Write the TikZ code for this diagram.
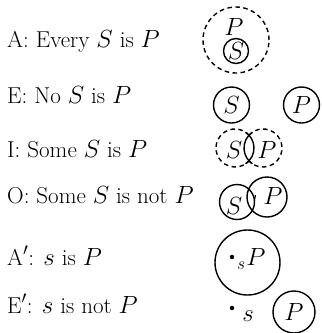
\documentclass[tikz,border=0pt]{standalone}
\begin{document}
\begin{tikzpicture}[x=1pt,y=-1pt,
  lbl/.style={anchor=base west,inner sep=0pt,font=\fontsize{23}{27}\selectfont},
  let/.style={inner sep=0pt,font=\fontsize{23}{27}\selectfont},
  ring/.style={circle,draw,line width=1.4pt,inner sep=0pt,font=\fontsize{23}{27}\selectfont},
  dsh/.style={line width=1.4pt,dash pattern=on 4.5pt off 3.5pt},
  sol/.style={line width=1.4pt},
  pt/.style={circle,fill,inner sep=0pt,minimum size=4.5pt}]
\useasboundingbox (0,0) rectangle (322,333);
% labels
\node[lbl] (tA) at (7,47) {A: Every $S$ is $P$};
\node[lbl] (tE) at (7,103) {E: No $S$ is $P$};
\node[lbl] (tI) at (7,157) {I: Some $S$ is $P$};
\node[lbl] (tO) at (7,203) {O: Some $S$ is not $P$};
\node[lbl] (tA2) at (7,265) {A$'$: $s$ is $P$};
\node[lbl] (tE2) at (7,313) {E$'$: $s$ is not $P$};
% A
\node[circle,draw,dsh,minimum size=66pt,inner sep=0pt] (Aout) at (236,40) {};
\node[let] (AP) at (234,27) {$P$};
\node[ring,minimum size=25pt] (AS) at (236,51) {$S$};
% E
\node[ring,minimum size=36pt] (ES) at (231.5,105) {$S$};
\node[ring,minimum size=36pt] (EP) at (301.5,105) {$P$};
% I
\coordinate (IL) at (235,148);
\coordinate (IR) at (263,148);
\draw[dsh] (IL) ++(42:19pt) arc[start angle=42,end angle=318,radius=19pt];
\draw[dsh] (IR) ++(138:19pt) arc[start angle=138,end angle=-138,radius=19pt];
\draw[sol] (IL) ++(-56:19pt) arc[start angle=-56,end angle=56,radius=19pt];
\draw[sol] (IR) ++(124:19pt) arc[start angle=124,end angle=236,radius=19pt];
\node[let] (IS) at (234,150) {$S$};
\node[let] (IP) at (267,150) {$P$};
% O
\node[ring,minimum size=35pt] (OS) at (237,202) {};
\node[ring,minimum size=40pt] (OP) at (267,197) {};
\node[let] (OSl) at (234,206) {$S$};
\node[let] (OPl) at (273,196) {$P$};
\coordinate (Ot1) at (255.5,195);
\coordinate (Ot2) at (254.5,200);
\draw[line width=1.1pt] (Ot1) -- (Ot2);
% A'
\node[ring,minimum size=65pt] (A2c) at (247.5,262.5) {};
\node[pt] (A2d) at (232,257) {};
\node[inner sep=0pt,font=\fontsize{18}{21}\selectfont] (A2s) at (241,266) {$s$};
\node[let] (A2P) at (256,257) {$P$};
% E'
\node[pt] (E2d) at (232,308) {};
\node[let] (E2s) at (248,316) {$s$};
\node[ring,minimum size=42pt] (E2P) at (294,312) {$P$};
\end{tikzpicture}
\end{document}
